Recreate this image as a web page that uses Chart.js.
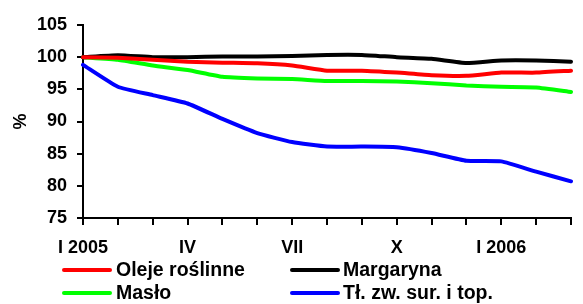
<!DOCTYPE html>
<html>
<head>
<meta charset="utf-8">
<script src="https://cdn.jsdelivr.net/npm/chart.js@4/dist/chart.umd.min.js"></script>
<style>
  html, body { margin: 0; padding: 0; background: #fff; }
  #wrap { width: 583px; height: 304px; position: relative; }
</style>
</head>
<body>
<div id="wrap"><canvas id="c" width="583" height="304"></canvas></div>
<script>
// Categories: months Jan 2005 .. Mar 2006
const categories = ["I 2005","II","III","IV","V","VI","VII","VIII","IX","X","XI","XII","I 2006","II","III"];
// Series values (%)
const olejeRoslinne = [100.0, 99.9, 99.6, 99.3, 99.15, 99.05, 98.7, 97.9, 97.9, 97.6, 97.2, 97.1, 97.6, 97.6, 97.9];
const margaryna     = [100.0, 100.3, 100.0, 100.0, 100.1, 100.1, 100.2, 100.35, 100.35, 100.0, 99.75, 99.1, 99.5, 99.5, 99.3];
const maslo         = [100.0, 99.6, 98.7, 98.0, 96.95, 96.7, 96.6, 96.3, 96.3, 96.2, 95.95, 95.6, 95.4, 95.3, 94.6];
const tluszcze      = [98.8, 95.4, 94.1, 92.8, 90.4, 88.2, 86.8, 86.1, 86.1, 86.0, 85.1, 83.9, 83.8, 82.2, 80.7];
// Axis
const yTicks = [75, 80, 85, 90, 95, 100, 105];
const seriesNames = ["Oleje roślinne", "Margaryna", "Masło", "Tł. zw. sur. i top."];
const seriesColors = ["#ff0000", "#000000", "#00ff00", "#0000ff"];

const FONT = "'Liberation Sans', Arial, sans-serif";

const legendPlugin = {
  id: 'customLegend',
  afterDraw(chart) {
    const ctx = chart.ctx;
    const cols = [{ lx: 62, tx: 116 }, { lx: 290, tx: 343 }];
    const rows = [270, 293];
    ctx.save();
    ctx.font = "bold 19.5px " + FONT;
    ctx.textBaseline = 'middle';
    ctx.textAlign = 'left';
    chart.data.datasets.forEach((ds, i) => {
      const c = cols[i % 2], y = rows[Math.floor(i / 2)];
      ctx.strokeStyle = ds.borderColor;
      ctx.lineWidth = 4;
      ctx.lineCap = 'round';
      ctx.beginPath();
      ctx.moveTo(c.lx + 2, y);
      ctx.lineTo(c.lx + 48, y);
      ctx.stroke();
      ctx.fillStyle = '#000';
      ctx.fillText(ds.label, c.tx, y + 1);
    });
    ctx.restore();
  }
};

const seriesData = [olejeRoslinne, margaryna, maslo, tluszcze];

new Chart(document.getElementById('c'), {
  type: 'line',
  data: {
    labels: categories,
    datasets: seriesNames.map((n, i) => ({
      label: n,
      data: seriesData[i],
      borderColor: seriesColors[i],
      backgroundColor: seriesColors[i],
      borderWidth: 4,
      pointRadius: 0,
      tension: 0.15,
      borderJoinStyle: 'round',
      borderCapStyle: 'round',
      fill: false
    }))
  },
  options: {
    responsive: false,
    animation: false,
    devicePixelRatio: 1,
    layout: { padding: { top: 25, right: 10, bottom: 0, left: 0 } },
    plugins: { legend: { display: false }, tooltip: { enabled: false } },
    scales: {
      x: {
        offset: false,
        grid: { drawOnChartArea: false, drawTicks: true, tickLength: 7, color: '#000', lineWidth: 2 },
        border: { display: true, color: '#000', width: 2 },
        ticks: {
          autoSkip: false, maxRotation: 0, minRotation: 0, padding: 12,
          color: '#000', font: { family: FONT, size: 18, weight: 'bold' },
          callback: function (v, i) { return i % 3 === 0 ? categories[i] : ''; }
        },
        afterFit: (s) => { s.height = 86; }
      },
      y: {
        min: 75, max: 105,
        afterBuildTicks: (s) => { s.ticks = yTicks.map(v => ({ value: v })); },
        grid: { drawOnChartArea: false, drawTicks: true, tickLength: 6, color: '#000', lineWidth: 2 },
        border: { display: true, color: '#000', width: 2 },
        ticks: { padding: 10, color: '#000', font: { family: FONT, size: 18, weight: 'bold' } },
        title: { display: true, text: '%', color: '#000', padding: { top: 10, bottom: 0 },
                 font: { family: FONT, size: 18, weight: 'bold' } },
        afterFit: (s) => { s.width = 83; }
      }
    }
  },
  plugins: [legendPlugin]
});
</script>
</body>
</html>
